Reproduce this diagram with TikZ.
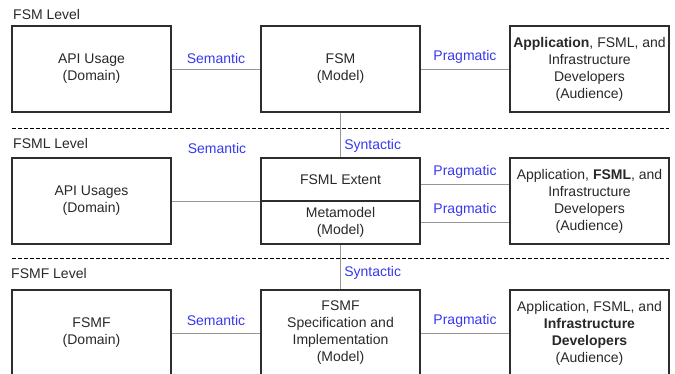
\documentclass[tikz,border=0pt]{standalone}
\usepackage{fontspec}
\setmainfont{Liberation Sans}
\definecolor{ink}{RGB}{40,40,40}
\definecolor{frame}{RGB}{45,45,45}
\definecolor{wire}{RGB}{150,150,150}
\definecolor{relblue}{RGB}{55,55,240}

\begin{document}
\begin{tikzpicture}[x=1pt,y=-1pt,node distance=249pt]
    \tikzstyle{every node}=[font=\fontsize{14}{17}\selectfont, text=ink]
    \tikzstyle{box}=[draw=frame, line width=1.2pt, minimum width=159pt,
        minimum height=86pt, align=center]
    \tikzstyle{half}=[box, minimum height=43pt]
    \tikzstyle{link}=[draw=wire, line width=0.9pt]
    \tikzstyle{rel}=[text=relblue]
    \tikzstyle{level}=[anchor=west, inner sep=0pt]
    \tikzstyle{sep}=[draw=black, line width=0.9pt, dash pattern=on 4pt off 2pt]

    \useasboundingbox (0,0) rectangle (675,374);
    \clip (0,0) rectangle (675,374);

    % FSM level
    \node[level] (lvA) at (13,14) {FSM Level};
    \node[box] (domA) at (91.5,69) {API Usage\\(Domain)};
    \node[box] [right of=domA] (fsm) {FSM\\(Model)};
    \node[box] [right of=fsm] (audA) {\textbf{Application}, FSML, and\\Infrastructure\\Developers\\(Audience)};
    \draw[sep] (12,128) -- (669,128);

    % FSML level
    \node[level] (lvB) at (13,143) {FSML Level};
    \node[box] [below of=domA, node distance=132pt] (domB) {API Usages\\(Domain)};
    \node[half] [right of=domB, yshift=21.5pt, text depth=-1pt] (extent) {FSML Extent};
    \node[half] [below of=extent, node distance=43pt] (meta) {Metamodel\\(Model)};
    \node[box] [right of=domB, node distance=498pt] (audB) {Application, \textbf{FSML}, and\\Infrastructure\\Developers\\(Audience)};
    \node[rel] (semB) at (217,148) {Semantic};
    \draw[sep] (12,258) -- (669,258);

    % FSMF level
    \node[level] (lvC) at (11,273) {FSMF Level};
    \node[box] [below of=domB, node distance=132pt] (domC) {FSMF\\(Domain)};
    \node[box] [right of=domC] (spec) {FSMF\\Specification and\\Implementation\\(Model)};
    \node[box] [right of=spec] (audC) {Application, FSML, and\\\textbf{Infrastructure}\\\textbf{Developers}\\(Audience)};

    % relations
    \path (domA) edge[link] node[rel,above=2pt]{Semantic} (fsm)
          (fsm) edge[link] node[rel,above=2pt]{Pragmatic} (audA)
          (fsm) edge[link] node[rel,right,pos=0.75]{Syntactic} (extent)
          (meta) edge[link] node[rel,right,pos=0.63]{Syntactic} (spec)
          (domC) edge[link] node[rel,above=4pt]{Semantic} (spec)
          (spec) edge[link] node[rel,above=2pt]{Pragmatic} (audC);
    \draw[link] (domB.east) -- (domB.east -| meta.west);
    \draw[link] ([yshift=-5pt]extent.east) -- ([yshift=-5pt]extent.east -| audB.west)
        node[rel,midway,above=2pt]{Pragmatic};
    \draw[link] (meta.east) -- (meta.east -| audB.west)
        node[rel,midway,above=2pt]{Pragmatic};
\end{tikzpicture}
\end{document}
